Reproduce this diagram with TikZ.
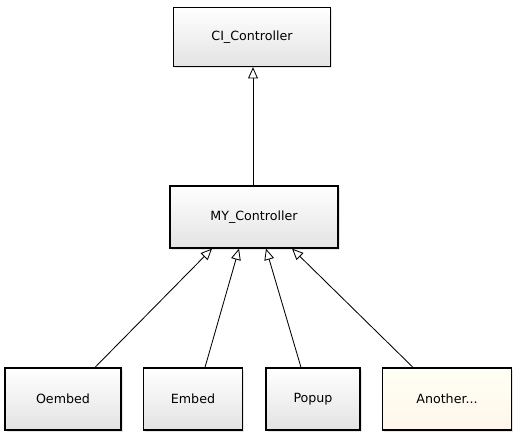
\documentclass[tikz,border=0pt]{standalone}
\usepackage{fontspec}
\setmainfont{DejaVu Sans}
\usetikzlibrary{arrows.meta,shadows}

\tikzset{
	classbox/.style = {draw, line width = 0.9pt, rectangle, top color = white, bottom color = black!11,
		drop shadow = {shadow xshift = 1.2pt, shadow yshift = -1.2pt, fill = black!20},
		font = \small, inner sep = 0pt},
	newbox/.style = {classbox, top color = yellow!4, bottom color = yellow!14!orange!8},
	inherit/.style = {-{Triangle[open, length = 8pt, width = 7pt]}, semithick}
}

\begin{document}
\begin{tikzpicture}[x = 0.025cm, y = -0.025cm]
	\useasboundingbox (0, 0) rectangle (517, 435) ;
	\node [classbox, minimum width = 157*0.025cm, minimum height = 59*0.025cm] (ci) at (252, 37) {CI\_Controller} ;
	\node [classbox, minimum width = 168*0.025cm, minimum height = 62*0.025cm] (my) at (254, 217) {MY\_Controller} ;
	\node [classbox, minimum width = 116*0.025cm, minimum height = 62*0.025cm] (oembed) at (63, 399) {Oembed} ;
	\node [classbox, minimum width = 99*0.025cm, minimum height = 62*0.025cm] (embed) at (193, 399) {Embed} ;
	\node [classbox, minimum width = 94*0.025cm, minimum height = 62*0.025cm] (popup) at (313, 399) {Popup} ;
	\node [newbox, minimum width = 129*0.025cm, minimum height = 62*0.025cm] (another) at (447, 399) {Another...} ;
	\draw [inherit] (my.north -| 253, 0) -- (ci.south -| 253, 0) ;
	\draw [inherit] (oembed.north -| 95, 0) -- (my.south -| 212, 0) ;
	\draw [inherit] (embed.north -| 205, 0) -- (my.south -| 239, 0) ;
	\draw [inherit] (popup.north -| 301, 0) -- (my.south -| 266, 0) ;
	\draw [inherit] (another.north -| 413, 0) -- (my.south -| 292, 0) ;
\end{tikzpicture}
\end{document}
